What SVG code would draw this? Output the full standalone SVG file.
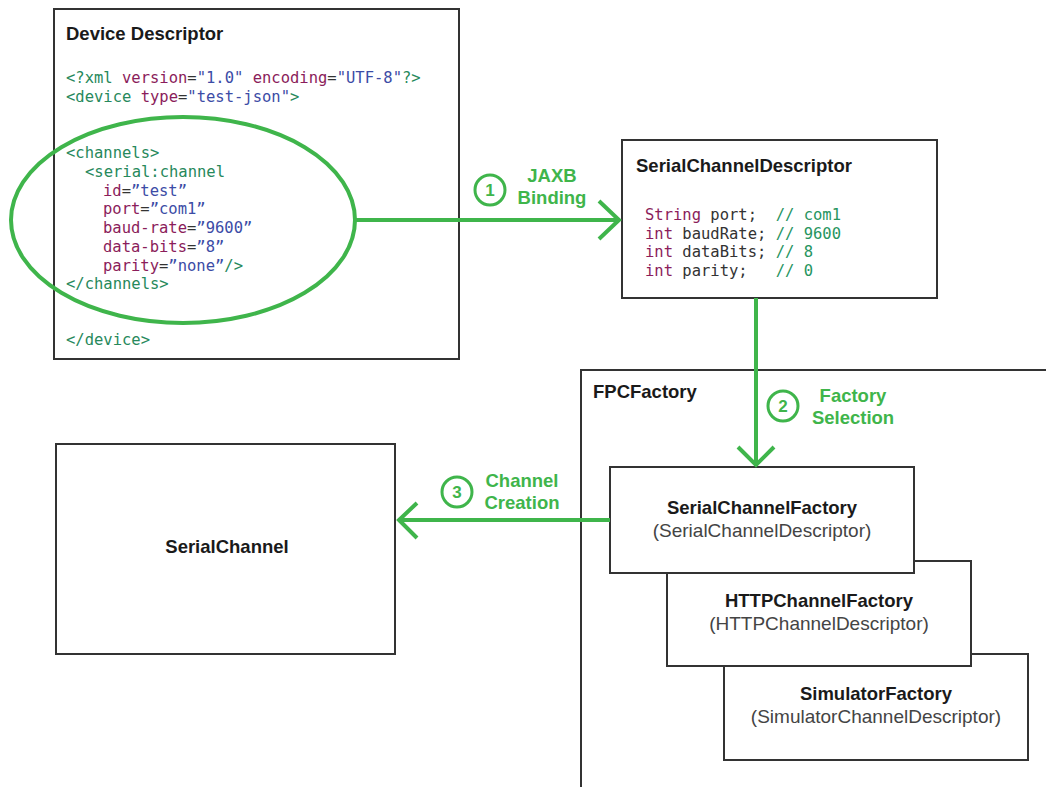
<svg xmlns="http://www.w3.org/2000/svg" width="1046" height="787" viewBox="0 0 1046 787">
  <style>
    .box { fill: #fff; stroke: #333; stroke-width: 2; }
    .title { font-family: "Liberation Sans", Arial, sans-serif; font-weight: bold; font-size: 18.5px; fill: #1a1a1a; }
    .sub { font-family: "Liberation Sans", Arial, sans-serif; font-size: 19px; fill: #444; }
    .code { font-family: "DejaVu Sans Mono", "Liberation Mono", monospace; font-size: 15.5px; white-space: pre; }
    .tag { fill: #27895c; }
    .attr { fill: #8b1d5b; }
    .val { fill: #3c4ca6; }
    .plain { fill: #333; }
    .cmt { fill: #27955f; }
    .wire { fill: none; stroke: #3fb54b; stroke-width: 4; }
    .step { fill: #fff; stroke: #3fb54b; stroke-width: 3; }
    .stepnum { font-family: "Liberation Sans", Arial, sans-serif; font-weight: bold; font-size: 17px; fill: #3fb54b; text-anchor: middle; }
    .lbl { font-family: "Liberation Sans", Arial, sans-serif; font-weight: bold; font-size: 18.5px; fill: #3fb54b; text-anchor: middle; }
  </style>

  <!-- Device descriptor XML -->
  <g id="device-descriptor">
    <rect class="box" x="54" y="9" width="405" height="350"/>
    <text class="title" x="66" y="40">Device Descriptor</text>
    <text class="code" x="66" y="83"><tspan class="tag">&lt;?xml </tspan><tspan class="attr">version</tspan><tspan class="plain">=</tspan><tspan class="val">"1.0" </tspan><tspan class="attr">encoding</tspan><tspan class="plain">=</tspan><tspan class="val">"UTF-8"</tspan><tspan class="tag">?&gt;</tspan></text>
    <text class="code" x="66" y="102"><tspan class="tag">&lt;device </tspan><tspan class="attr">type</tspan><tspan class="plain">=</tspan><tspan class="val">"test-json"</tspan><tspan class="tag">&gt;</tspan></text>
    <text class="code tag" x="66" y="158">&lt;channels&gt;</text>
    <text class="code tag" x="85" y="177">&lt;serial:channel</text>
    <text class="code" x="103" y="196"><tspan class="attr">id</tspan><tspan class="plain">=</tspan><tspan class="val">”test”</tspan></text>
    <text class="code" x="103" y="214"><tspan class="attr">port</tspan><tspan class="plain">=</tspan><tspan class="val">”com1”</tspan></text>
    <text class="code" x="103" y="233"><tspan class="attr">baud-rate</tspan><tspan class="plain">=</tspan><tspan class="val">”9600”</tspan></text>
    <text class="code" x="103" y="252"><tspan class="attr">data-bits</tspan><tspan class="plain">=</tspan><tspan class="val">”8”</tspan></text>
    <text class="code" x="103" y="271"><tspan class="attr">parity</tspan><tspan class="plain">=</tspan><tspan class="val">”none”</tspan><tspan class="tag">/&gt;</tspan></text>
    <text class="code tag" x="66" y="289">&lt;/channels&gt;</text>
    <text class="code tag" x="66" y="345">&lt;/device&gt;</text>
  </g>

  <!-- Bound Java descriptor -->
  <g id="serial-channel-descriptor">
    <rect class="box" x="622" y="140" width="315" height="158"/>
    <text class="title" x="636" y="172">SerialChannelDescriptor</text>
    <text class="code" x="645" y="220"><tspan class="attr">String</tspan><tspan class="plain"> port;  </tspan><tspan class="cmt">// com1</tspan></text>
    <text class="code" x="645" y="239"><tspan class="attr">int</tspan><tspan class="plain"> baudRate; </tspan><tspan class="cmt">// 9600</tspan></text>
    <text class="code" x="645" y="257"><tspan class="attr">int</tspan><tspan class="plain"> dataBits; </tspan><tspan class="cmt">// 8</tspan></text>
    <text class="code" x="645" y="276"><tspan class="attr">int</tspan><tspan class="plain"> parity;   </tspan><tspan class="cmt">// 0</tspan></text>
  </g>

  <!-- Factory container (runs off the right and bottom edges) -->
  <g id="fpc-factory">
    <path d="M581 787 V370 H1046" fill="none" stroke="#333" stroke-width="2"/>
    <text class="title" x="593" y="398">FPCFactory</text>
  </g>

  <g id="simulator-factory">
    <rect class="box" x="724" y="654" width="304" height="106"/>
    <text class="title" x="876" y="700" text-anchor="middle">SimulatorFactory</text>
    <text class="sub" x="876" y="723" text-anchor="middle">(SimulatorChannelDescriptor)</text>
  </g>

  <g id="http-channel-factory">
    <rect class="box" x="667" y="561" width="304" height="105"/>
    <text class="title" x="819" y="607" text-anchor="middle">HTTPChannelFactory</text>
    <text class="sub" x="819" y="630" text-anchor="middle">(HTTPChannelDescriptor)</text>
  </g>

  <g id="serial-channel-factory">
    <rect class="box" x="610" y="467" width="304" height="106"/>
    <text class="title" x="762" y="514" text-anchor="middle">SerialChannelFactory</text>
    <text class="sub" x="762" y="537" text-anchor="middle">(SerialChannelDescriptor)</text>
  </g>

  <g id="serial-channel">
    <rect class="box" x="56" y="444" width="339" height="210"/>
    <text class="title" x="227" y="553" text-anchor="middle">SerialChannel</text>
  </g>

  <!-- Flow connectors -->
  <g id="connectors">
    <ellipse class="wire" cx="183" cy="220" rx="172" ry="103"/>
    <path class="wire" d="M355 220 H619"/>
    <path class="wire" d="M599 201 L619 220 L599 239"/>
    <path class="wire" d="M756 298 V465"/>
    <path class="wire" d="M738 447 L756 465 L774 447"/>
    <path class="wire" d="M610 520 H399"/>
    <path class="wire" d="M417 503 L399 520 L417 538"/>
  </g>

  <!-- Step labels -->
  <g id="step-1">
    <circle class="step" cx="490" cy="190" r="15"/>
    <text class="stepnum" x="490" y="196">1</text>
    <text class="lbl" x="552" y="182">JAXB</text>
    <text class="lbl" x="552" y="204">Binding</text>
  </g>
  <g id="step-2">
    <circle class="step" cx="783" cy="406" r="15"/>
    <text class="stepnum" x="783" y="412">2</text>
    <text class="lbl" x="853" y="402">Factory</text>
    <text class="lbl" x="853" y="424">Selection</text>
  </g>
  <g id="step-3">
    <circle class="step" cx="457" cy="492" r="15"/>
    <text class="stepnum" x="457" y="498">3</text>
    <text class="lbl" x="522" y="487">Channel</text>
    <text class="lbl" x="522" y="509">Creation</text>
  </g>
</svg>
